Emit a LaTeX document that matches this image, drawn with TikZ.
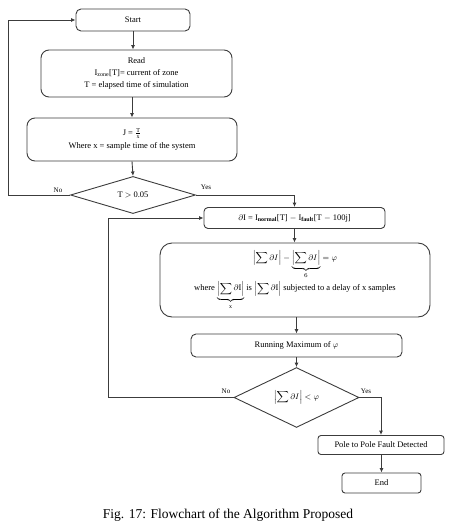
\documentclass[tikz,border=0pt]{standalone}
\usepackage{amsmath}
\usepackage{fontspec}
\setmainfont{Liberation Serif}
\usetikzlibrary{shapes.geometric,arrows.meta}
\definecolor{lc}{HTML}{3C3C3C}
\begin{document}
\begin{tikzpicture}[x=1pt,y=-1pt,
  box/.style={draw=lc, rounded corners=5pt, line width=0.9pt, align=center, inner sep=0pt,
    font=\fontsize{8.5}{11}\selectfont},
  dia/.style={draw=lc, diamond, line width=0.9pt, inner sep=0pt, align=center,
    font=\fontsize{8.5}{11}\selectfont},
  arr/.style={draw=lc, line width=0.9pt, -{Latex[length=4.5pt,width=4pt]}},
  lbl/.style={font=\fontsize{7}{8}\selectfont, inner sep=0pt}]
\useasboundingbox (0,0) rectangle (457,532);
\node[box, minimum width=114pt, minimum height=22pt] (start) at (133,20) {Start};
\node[box, rounded corners=8pt, minimum width=191pt, minimum height=47pt] (read) at (136.5,73.5)
  {Read\\[1pt] I$_{\text{zone}}$[T]= current of zone\\[1pt] T = elapsed time of simulation};
\node[box, rounded corners=8pt, minimum width=210pt, minimum height=43pt] (jbox) at (132,139.5)
  {J = $\frac{\text{T}}{\text{x}}$\\[2pt] Where x = sample time of the system};
\node[dia, minimum width=125pt, minimum height=36pt] (d1) at (133,195) {T $>$ 0.05};
\node[box, rounded corners=4pt, minimum width=181pt, minimum height=21pt] (dI) at (294.5,218)
  {$\partial$I = I$_{\textbf{normal}}$[T] $-$ I$_{\textbf{fault}}$[T $-$ 100j]};
\node[box, rounded corners=12pt, minimum width=270pt, minimum height=74pt] (big) at (295,280)
  {$\displaystyle\left|\sum \partial I\right| - \underbrace{\left|\sum \partial I\right|}_{6} = \varphi$\\[2pt]
   where $\displaystyle\underbrace{\left|\sum \partial \mathrm{I}\right|}_{\mathrm{x}}$ is $\displaystyle\left|\sum \partial \mathrm{I}\right|$ subjected to a delay of x samples};
\node[box, minimum width=211pt, minimum height=23pt] (run) at (296.5,345.5) {Running Maximum of $\varphi$};
\node[dia, minimum width=125pt, minimum height=43pt] (d2) at (296.5,397.5) {$\displaystyle\left|\sum \partial I\right| < \varphi$};
\node[box, rounded corners=3pt, minimum width=126pt, minimum height=19pt] (pole) at (381,445) {Pole to Pole Fault Detected};
\node[box, rounded corners=3pt, minimum width=79pt, minimum height=20pt] (endb) at (381.5,483) {End};
\node[font=\fontsize{13.5}{15}\selectfont, inner sep=0pt] (cap) at (228,515) {Fig. 17: Flowchart of the Algorithm Proposed};
\coordinate (l1) at (8,195);
\coordinate (l2) at (108,397.5);
\draw[arr] (start.south) -- (start.south |- read.north);
\draw[arr] (jbox.north |- read.south) -- (jbox.north);
\draw[arr] (jbox.south) -- (d1.north);
\draw[arr] (d1.east) -| (dI.north);
\draw[arr] (d1.west) -- (l1) |- (start.west);
\draw[arr] (dI.south) -- (dI.south |- big.north);
\draw[arr] (run.north |- big.south) -- (run.north);
\draw[arr] (run.south) -- (d2.north);
\draw[arr] (d2.west) -- (l2) |- (dI.west);
\draw[arr] (d2.east) -| (pole.north);
\draw[arr] (pole.south -| endb.north) -- (endb.north);
\node[lbl] (no1) at (58,190) {No};
\node[lbl] (yes1) at (206,187) {Yes};
\node[lbl] (no2) at (226,391) {No};
\node[lbl] (yes2) at (366,391) {Yes};
\end{tikzpicture}
\end{document}
